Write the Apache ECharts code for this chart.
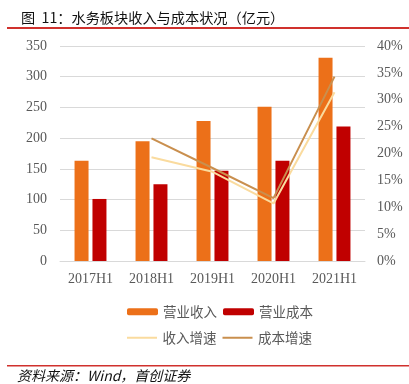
<!DOCTYPE html>
<html><head><meta charset="utf-8">
<script src="https://cdn.jsdelivr.net/npm/echarts@6/dist/echarts.min.js"></script>
<style>html,body{margin:0;padding:0;background:#fff}#c{width:409px;height:384px}</style>
</head><body><div id="c"></div>
<script>
const categories = ['2017H1','2018H1','2019H1','2020H1','2021H1'];
const revenue = [163, 195, 228, 251, 331];
const cost = [101, 125, 147, 163, 219];
const revenueGrowth = [null, 19.3, 16.6, 10.7, 31.4];
const costGrowth = [null, 22.8, 17.3, 11.7, 34.3];
const leftTicks = [0, 350, 50];
const rightTicks = [0, 40, 5];

const chart = echarts.init(document.getElementById('c'), null, {renderer:'canvas'});
const serif = '"Liberation Serif", "Times New Roman", serif';
const cjk = '"Noto Sans CJK SC", sans-serif';
const lineIcon = 'path://M0,0 L30,0 L30,2 L0,2 Z';
chart.setOption({
  animation: false,
  backgroundColor: '#fff',
  title: {
    text: '图  11：水务板块收入与成本状况（亿元）',
    left: 16, top: 6,
    textStyle: {fontFamily: cjk, fontSize: 14.2, fontWeight: 'normal', color: '#111'}
  },
  graphic: [
    {type:'rect', shape:{x:7, y:27, width:402, height:2}, style:{fill:'#D0312D'}},
    {type:'rect', shape:{x:7, y:365, width:402, height:1.5}, style:{fill:'#D0312D'}},
    {type:'text', left: 17, top: 369, style:{text:'资料来源：Wind，首创证券', font:'italic 14px "Noto Sans CJK SC", sans-serif', fill:'#111'}}
  ],
  legend: [
    {data:['营业收入','营业成本'], top: 300, left: 122, itemWidth: 31, itemHeight: 7, itemGap: 6,
     textStyle:{fontFamily: cjk, fontSize: 13.5, color:'#595959'}},
    {data:[{name:'收入增速', icon: lineIcon},{name:'成本增速', icon: lineIcon}], top: 326, left: 122, itemWidth: 31, itemHeight: 2, itemGap: 6,
     textStyle:{fontFamily: cjk, fontSize: 13.5, color:'#595959'}}
  ],
  grid: {left: 60, right: 44, top: 46, bottom: 123},
  xAxis: {
    type: 'category', data: categories,
    axisLine: {lineStyle:{color:'#D9D9D9'}}, axisTick:{show:false},
    axisLabel: {fontFamily: serif, fontSize: 14, color:'#595959', margin: 11}
  },
  yAxis: [
    {type:'value', min: leftTicks[0], max: leftTicks[1], interval: leftTicks[2],
     axisLine:{show:false}, axisTick:{show:false},
     splitLine:{lineStyle:{color:'#D9D9D9'}},
     axisLabel:{fontFamily: serif, fontSize: 14, color:'#595959', margin: 13}},
    {type:'value', min: rightTicks[0], max: rightTicks[1], interval: rightTicks[2],
     axisLine:{show:false}, axisTick:{show:false}, splitLine:{show:false},
     axisLabel:{fontFamily: serif, fontSize: 14, color:'#595959', margin: 12, formatter:'{value}%'}}
  ],
  series: [
    {name:'营业收入', type:'bar', data: revenue, barWidth: 14, barGap: '28%', itemStyle:{color:'#EC7019'}},
    {name:'营业成本', type:'bar', data: cost, barWidth: 14, itemStyle:{color:'#C00000'}},
    {name:'收入增速', type:'line', yAxisIndex:1, data: revenueGrowth, symbol:'none', lineStyle:{color:'#FADB9E', width:2}, itemStyle:{color:'#FADB9E'}},
    {name:'成本增速', type:'line', yAxisIndex:1, data: costGrowth, symbol:'none', lineStyle:{color:'#C98F4E', width:2}, itemStyle:{color:'#C98F4E'}}
  ]
});
</script></body></html>
